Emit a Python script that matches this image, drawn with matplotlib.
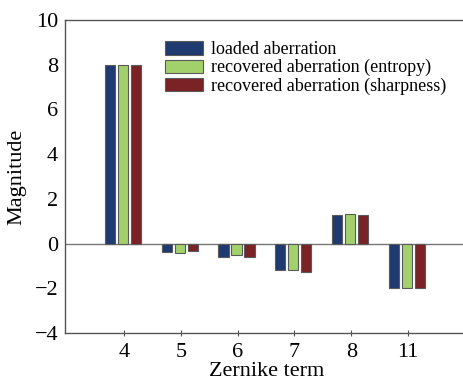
import matplotlib
matplotlib.use("Agg")
import matplotlib.pyplot as plt
import numpy as np

terms = ["4", "5", "6", "7", "8", "11"]
loaded = [8.0, -0.36, -0.60, -1.20, 1.27, -2.00]
entropy = [7.97, -0.40, -0.52, -1.20, 1.32, -2.00]
sharpness = [8.0, -0.33, -0.58, -1.25, 1.26, -2.00]
series_names = ["loaded aberration",
                "recovered aberration (entropy)",
                "recovered aberration (sharpness)"]
colors = ["#1f3a70", "#a2d16c", "#7a2226"]

plt.rcParams["font.family"] = ["Liberation Serif", "DejaVu Serif"]

fig = plt.figure(figsize=(4.63, 3.81), dpi=100)
ax = fig.add_axes([65 / 463, 1 - 333 / 381, 1.0 - 65 / 463 + 0.01, 313 / 381])

x = np.arange(len(terms))
width = 0.18
step = 0.23
for i, (vals, name, c) in enumerate(zip([loaded, entropy, sharpness], series_names, colors)):
    ax.bar(x + (i - 1) * step - 0.02, vals, width, color=c, edgecolor="#5a5a5a",
           linewidth=0.8, label=name, zorder=3)

ax.axhline(0, color="#777777", linewidth=1.0, zorder=2)
ax.set_xlim(-1.04, 6.05)
ax.set_ylim(-4, 10)
ax.set_yticks([-4, -2, 0, 2, 4, 6, 8, 10])
ax.set_yticklabels(["\u22124", "\u22122", "0", "2", "4", "6", "8", "10"])
ax.set_xticks(x)
ax.set_xticklabels(terms)

for side in ["left", "bottom", "top"]:
    ax.spines[side].set_color("#555555")
    ax.spines[side].set_linewidth(1.0)
ax.spines["right"].set_visible(False)

ax.tick_params(axis="x", direction="inout", length=5, width=0.8, color="#555555",
               labelsize=16, pad=5)
ax.tick_params(axis="y", direction="out", length=0, labelsize=16, pad=5)

ax.set_xlabel("Zernike term", fontsize=16, labelpad=0)
ax.set_ylabel("Magnitude", fontsize=16, labelpad=6)

leg = ax.legend(loc="upper left", bbox_to_anchor=(0.248, 0.932), frameon=False,
                fontsize=13, handlelength=2.1, handleheight=0.75,
                handletextpad=0.45, labelspacing=0.05, borderaxespad=0,
                borderpad=0)

fig.savefig("out.png", dpi=100)
